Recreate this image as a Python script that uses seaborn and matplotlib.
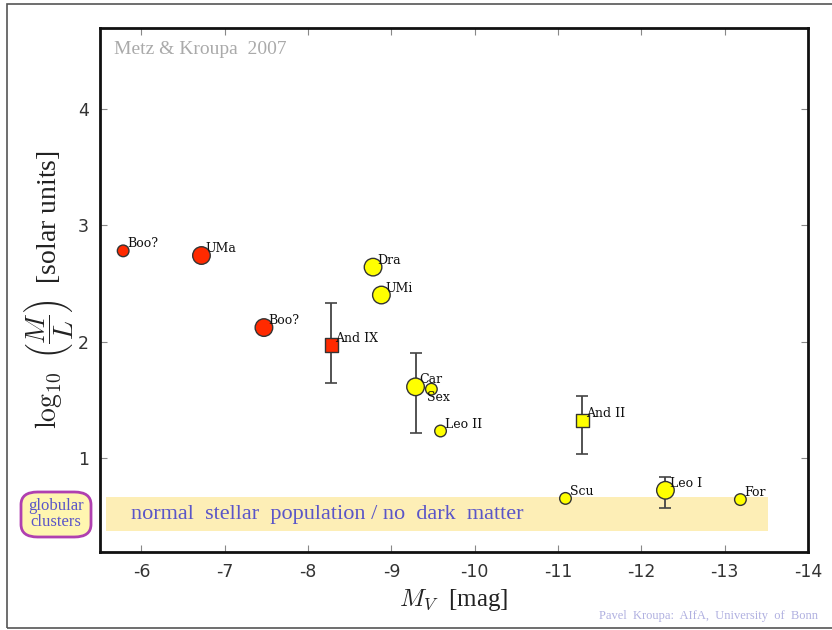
import matplotlib
matplotlib.use("Agg")
import matplotlib.pyplot as plt
import seaborn as sns
import pandas as pd
from matplotlib.patches import Rectangle, FancyBboxPatch

plt.rcParams["mathtext.fontset"] = "cm"
plt.rcParams["axes.unicode_minus"] = False

# ---- data ----
names = ["Boo?", "UMa", "Boo?", "And IX", "Dra", "UMi", "Car", "Sex", "Leo II",
         "And II", "Scu", "Leo I", "For"]
mv = [-5.78, -6.72, -7.47, -8.28, -8.78, -8.88, -9.29, -9.48, -9.59,
      -11.29, -11.09, -12.29, -13.19]
logml = [2.78, 2.74, 2.12, 1.97, 2.64, 2.40, 1.61, 1.59, 1.23,
         1.32, 0.65, 0.72, 0.64]
colors = ["red", "red", "red", "red", "yellow", "yellow", "yellow", "yellow", "yellow",
          "yellow", "yellow", "yellow", "yellow"]
shapes = ["o", "o", "o", "s", "o", "o", "o", "o", "o", "s", "o", "o", "o"]
sizes = ["small", "big", "big", "sq", "big", "big", "big", "small", "small",
         "sq", "small", "big", "small"]
err_lo = [None, None, None, 1.64, None, None, 1.21, None, None, 1.03, None, 0.57, None]
err_hi = [None, None, None, 2.33, None, None, 1.90, None, None, 1.53, None, 0.83, None]

band_x = [-5.57, -13.52]
band_y = [0.37, 0.665]

df = pd.DataFrame(dict(name=names, mv=mv, logml=logml, color=colors,
                       shape=shapes, size=sizes))

fig = plt.figure(figsize=(8.32, 6.30), dpi=100)
ax = fig.add_axes([0.120, 0.124, 0.851, 0.832])

# slide frame
fig.patches.append(Rectangle((7/832, 2/630), 1.0, 624/630, transform=fig.transFigure,
                             fill=False, edgecolor="#555555", lw=1.2, zorder=0))

# band
ax.add_patch(Rectangle((band_x[0], band_y[0]), band_x[1]-band_x[0], band_y[1]-band_y[0],
                       facecolor="#fdeeb6", edgecolor="none", zorder=0))
ax.text(-5.88, 0.51, "normal  stellar  population / no  dark  matter",
        family="Liberation Serif", fontsize=16, color="#5a55c8", va="center", ha="left",
        zorder=1)

# error bars
for x, y, lo, hi in zip(mv, logml, err_lo, err_hi):
    if lo is not None:
        ax.errorbar([x], [y], yerr=[[y - lo], [hi - y]], fmt="none", ecolor="#444444",
                    elinewidth=1.3, capsize=4, capthick=1.2, zorder=2)

cmap = {"red": "#ff2a00", "yellow": "#ffff00"}
size_map = {"small": 70, "big": 160, "sq": 90}
for (sz, shp), sub in df.groupby(["size", "shape"]):
    sns.scatterplot(data=sub, x="mv", y="logml", hue="color", palette=cmap,
                    marker=shp, s=size_map[sz], edgecolor="#333333", linewidth=1.0,
                    legend=False, ax=ax, zorder=3)

offsets = {"Sex": (0.05, -0.07)}
for n, x, y in zip(names, mv, logml):
    dx, dy = offsets.get(n, (-0.05, 0.06))
    ax.text(x + dx, y + dy, n, family="DejaVu Serif", fontsize=9,
            ha="left", va="center", color="#111111", zorder=4)

ax.set_xlim(-5.5, -14.0)
ax.set_ylim(0.19, 4.70)
ax.set_xticks([-6, -7, -8, -9, -10, -11, -12, -13, -14])
ax.set_yticks([1, 2, 3, 4])
ax.tick_params(direction="in", top=True, right=True, length=5, width=0.8,
               color="#888888", labelsize=12.5, labelcolor="#333333", pad=8)
for sp in ax.spines.values():
    sp.set_linewidth(2.0)
    sp.set_color("#111111")

ax.set_xlabel(r"$M_V\ $ [mag]", family="Liberation Serif", fontsize=18, color="#222222",
              labelpad=4)
ax.set_ylabel(r"$\log_{10}\ \left(\dfrac{M}{L}\right)$  [solar units]",
              family="Liberation Serif", fontsize=20, color="#222222", labelpad=2)

ax.text(0.02, 0.975, "Metz & Kroupa  2007", transform=ax.transAxes,
        family="Liberation Serif", fontsize=14, color="#aaaaaa", va="top", ha="left")

# globular clusters box
fig.patches.append(FancyBboxPatch((21/832, (630-537)/630), 70/832, 45/630,
                                  boxstyle="round,pad=0,rounding_size=0.02",
                                  transform=fig.transFigure, facecolor="#fff6b0",
                                  edgecolor="#b040b0", lw=2))
fig.text(56/832, 1-514/630, "globular\nclusters", family="Liberation Serif",
         fontsize=12, color="#5a55c8", ha="center", va="center", linespacing=1.0)

fig.text(818/832, 1-616/630, "Pavel  Kroupa:  AIfA,  University  of  Bonn",
         family="Liberation Serif", fontsize=9, color="#b0b0e0", ha="right", va="center")

fig.savefig("out.png", dpi=100)
